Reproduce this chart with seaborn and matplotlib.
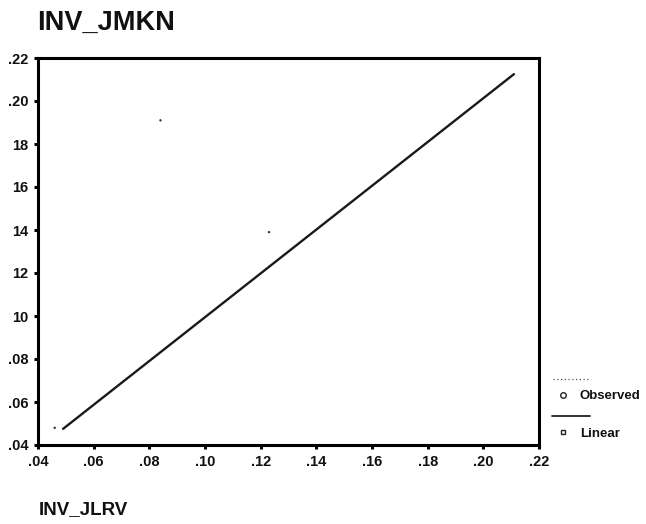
import matplotlib
matplotlib.use("Agg")
import matplotlib.pyplot as plt
from matplotlib.lines import Line2D
import seaborn as sns
import pandas as pd

sns.set_style("white")
plt.rcParams['font.family'] = ['Liberation Sans', 'DejaVu Sans']

# Data
obs_x = [0.046, 0.084, 0.123]
obs_y = [0.048, 0.191, 0.139]
fit_x = [0.049, 0.211]
fit_y = [0.0475, 0.2125]
x_ticks = [0.04, 0.06, 0.08, 0.10, 0.12, 0.14, 0.16, 0.18, 0.20, 0.22]
x_labels = [".04", ".06", ".08", ".10", ".12", ".14", ".16", ".18", ".20", ".22"]
y_ticks = [0.04, 0.06, 0.08, 0.10, 0.12, 0.14, 0.16, 0.18, 0.20, 0.22]
y_labels = [".04", ".06", ".08", "10", "12", "14", "16", "18", ".20", ".22"]
legend_labels = ["Observed", "Linear"]

obs = pd.DataFrame({"x": obs_x, "y": obs_y})
fit = pd.DataFrame({"x": fit_x, "y": fit_y})

W, H = 646, 524
fig = plt.figure(figsize=(W/100, H/100), dpi=100)
ax = fig.add_axes([38/W, 1-445/H, (539-38)/W, (445-58)/H])

sns.lineplot(data=fit, x="x", y="y", ax=ax, color="#1a1a1a", lw=1.7, dashes=False)
sns.scatterplot(data=obs, x="x", y="y", ax=ax, color="#333333", s=3, marker="o", edgecolor="none")

ax.set_xlim(0.04, 0.22)
ax.set_ylim(0.04, 0.22)
ax.set_xticks(x_ticks)
ax.set_xticklabels(x_labels)
ax.set_yticks(y_ticks)
ax.set_yticklabels(y_labels)
ax.set_xlabel("")
ax.set_ylabel("")
for s in ax.spines.values():
    s.set_visible(True)
    s.set_color("black")
    s.set_linewidth(2.2)
ax.tick_params(axis="both", direction="out", length=3, width=2.2, color="black",
               labelsize=10.5, pad=4, bottom=True, left=True)
for lab in ax.get_xticklabels() + ax.get_yticklabels():
    lab.set_fontweight("bold")
    lab.set_color("#111111")

fig.text(37/W, 1-23/H, "INV_JMKN", fontsize=19.5, fontweight="bold",
         ha="left", va="center", color="#111111")
fig.text(39/W, 1-510/H, "INV_JLRV", fontsize=13.5, fontweight="bold",
         ha="left", va="center", color="#111111")

# Legend drawn in SPSS style: line sample above, marker + label below
def fx(px):
    return px / W

def fy(py):
    return 1 - py / H

fig.add_artist(Line2D([fx(553), fx(590)], [fy(379), fy(379)], color="#555555",
                      lw=0.9, ls=(0, (1, 2)), transform=fig.transFigure))
fig.add_artist(Line2D([fx(563)], [fy(395)], marker="o", markersize=4, markerfacecolor="none",
                      markeredgecolor="#222222", markeredgewidth=1.0, ls="none",
                      transform=fig.transFigure))
fig.text(fx(580), fy(396), legend_labels[0], fontsize=9.5, fontweight="bold",
         ha="left", va="center", color="#111111")
fig.add_artist(Line2D([fx(552), fx(590)], [fy(416), fy(416)], color="#222222",
                      lw=1.3, transform=fig.transFigure))
fig.add_artist(Line2D([fx(563)], [fy(432)], marker="s", markersize=3.5, markerfacecolor="none",
                      markeredgecolor="#222222", markeredgewidth=1.0, ls="none",
                      transform=fig.transFigure))
fig.text(fx(580), fy(434), legend_labels[1], fontsize=9.5, fontweight="bold",
         ha="left", va="center", color="#111111")

fig.savefig("out.png", dpi=100)
